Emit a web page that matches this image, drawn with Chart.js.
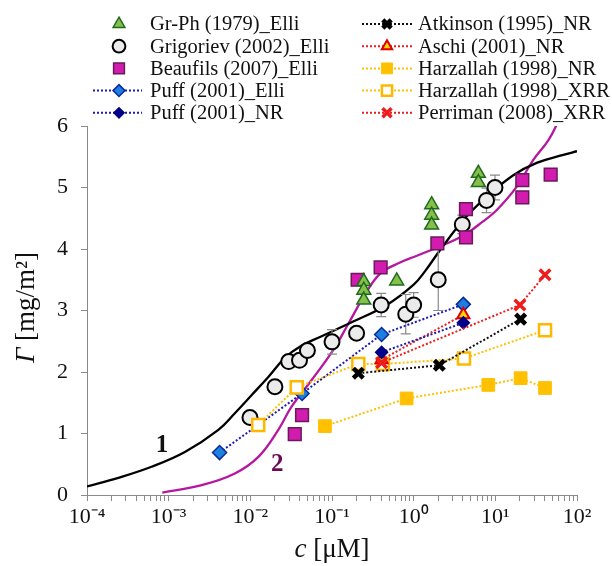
<!DOCTYPE html>
<html>
<head>
<meta charset="utf-8">
<script src="https://cdn.jsdelivr.net/npm/chart.js@4.4.1/dist/chart.umd.min.js"></script>
<style>
html, body { margin: 0; padding: 0; background: #fff; }
#wrap { width: 612px; height: 566px; }
</style>
</head>
<body>
<div id="wrap"><canvas id="chart" width="612" height="566"></canvas></div>
<script>
// 刻度标签
const xTickLabels = ['10⁻⁴', '10⁻³', '10⁻²', '10⁻¹', '10⁰', '10¹', '10²'];
const yTicks = [0, 1, 2, 3, 4, 5, 6];

// 实验数据 c [µM] / Γ [mg/m²]
const grPhC = [0.245, 0.245, 0.245, 0.62, 1.66, 1.66, 1.66, 6.2, 6.2];
const grPhG = [3.47, 3.33, 3.17, 3.48, 4.72, 4.55, 4.39, 5.23, 5.08];

const grigC = [0.0099, 0.020, 0.0295, 0.040, 0.050, 0.10, 0.20, 0.40, 0.80, 1.0, 2.0, 3.94, 7.8, 9.9];
const grigG = [1.26, 1.76, 2.17, 2.19, 2.35, 2.49, 2.63, 3.09, 2.94, 3.09, 3.50, 4.40, 4.79, 5.00];
const grigErr = [0, 0, 0, 0, 0, 0.2, 0, 0.19, 0.32, 0.2, 0.5, 0.15, 0.2, 0.2];

const beauC = [0.035, 0.043, 0.206, 0.394, 1.95, 4.37, 4.37, 21.4, 21.4, 47.6];
const beauG = [0.99, 1.30, 3.50, 3.70, 4.09, 4.65, 4.19, 5.12, 4.84, 5.21];

const puffElliC = [0.0042, 0.043, 0.405, 4.06];
const puffElliG = [0.69, 1.65, 2.61, 3.10];

const puffNrC = [0.405, 4.06];
const puffNrG = [2.32, 2.80];

const atkC = [0.21, 2.06, 20.4];
const atkG = [1.98, 2.11, 2.86];

const aschiC = [0.405, 4.06];
const aschiG = [2.20, 2.93];

const harzNrC = [0.082, 0.82, 8.2, 20.4, 40.6];
const harzNrG = [1.12, 1.57, 1.79, 1.90, 1.74];

const harzXrrC = [0.0125, 0.037, 0.21, 0.42, 4.13, 40.6];
const harzXrrG = [1.14, 1.75, 2.13, 2.13, 2.22, 2.68];

const perrC = [0.405, 20.0, 40.6];
const perrG = [2.15, 3.09, 3.58];

// 理论曲线 1 和 2
const curve1C = [0.0001, 0.000242, 0.000617, 0.00158, 0.00406, 0.00646, 0.01047, 0.0166, 0.0265, 0.0426, 0.0713, 0.182, 0.468, 1.0, 1.38, 2.10, 4.06, 7.83, 16.6, 32.1, 67.9, 100];
const curve1G = [0.14, 0.28, 0.46, 0.70, 1.06, 1.33, 1.63, 1.92, 2.23, 2.43, 2.57, 2.82, 3.09, 3.42, 3.64, 3.98, 4.47, 4.85, 5.20, 5.40, 5.53, 5.59];

const curve2C = [0.000836, 0.00254, 0.00646, 0.01253, 0.0220, 0.0321, 0.0564, 0.1038, 0.158, 0.251, 0.389, 0.681, 1.0, 1.91, 4.06, 7.08, 10.35, 18.2, 29.2, 44.7, 60.3];
const curve2G = [0.04, 0.16, 0.35, 0.62, 1.06, 1.44, 1.87, 2.36, 2.78, 3.25, 3.60, 3.78, 3.87, 4.02, 4.22, 4.45, 4.63, 5.01, 5.45, 5.77, 6.1];

// 图例顺序 (左列, 右列)
const legendLeft = ['Gr-Ph (1979)_Elli', 'Grigoriev (2002)_Elli', 'Beaufils (2007)_Elli', 'Puff (2001)_Elli', 'Puff (2001)_NR'];
const legendRight = ['Atkinson (1995)_NR', 'Aschi (2001)_NR', 'Harzallah (1998)_NR', 'Harzallah (1998)_XRR', 'Perriman (2008)_XRR'];

function pts(cs, gs) {
    return cs.map((c, i) => ({ x: c, y: gs[i] }));
}

const dotted = [2, 2];

function markers(label, cs, gs, style) {
    return Object.assign({
        label: label,
        data: pts(cs, gs),
        showLine: false,
        pointBorderWidth: 1.5
    }, style);
}

function dottedSeries(label, cs, gs, color, style) {
    return Object.assign({
        label: label,
        data: pts(cs, gs),
        showLine: true,
        borderColor: color,
        borderWidth: 2,
        borderDash: dotted,
        pointBorderWidth: 1.5
    }, style);
}

const datasets = [
    dottedSeries('Perriman (2008)_XRR', perrC, perrG, '#ee1c1c', {
        pointStyle: 'crossRot', pointRadius: 7.5, pointBorderWidth: 3.5,
        pointBorderColor: '#ee1c1c', pointBackgroundColor: '#ee1c1c'
    }),
    dottedSeries('Atkinson (1995)_NR', atkC, atkG, '#111111', {
        pointStyle: 'crossRot', pointRadius: 7, pointBorderWidth: 4.5,
        pointBorderColor: '#000000', pointBackgroundColor: '#000000'
    }),
    dottedSeries('Puff (2001)_NR', puffNrC, puffNrG, '#1a1ab4', {
        pointStyle: 'rectRot', pointRadius: 6,
        pointBorderColor: '#000080', pointBackgroundColor: '#00008b'
    }),
    dottedSeries('Aschi (2001)_NR', aschiC, aschiG, '#ee1c1c', {
        pointStyle: 'triangle', pointRadius: 7, pointBorderWidth: 2,
        pointBorderColor: '#e00000', pointBackgroundColor: '#ffd700'
    }),
    dottedSeries('Harzallah (1998)_XRR', harzXrrC, harzXrrG, '#ffc000', {
        pointStyle: 'rect', pointRadius: 8.5, pointBorderWidth: 2.5,
        pointBorderColor: '#ffb800', pointBackgroundColor: '#ffffff'
    }),
    dottedSeries('Puff (2001)_Elli', puffElliC, puffElliG, '#1a1ab4', {
        pointStyle: 'rectRot', pointRadius: 7,
        pointBorderColor: '#0a2a9a', pointBackgroundColor: '#1e7fe0'
    }),
    dottedSeries('Harzallah (1998)_NR', harzNrC, harzNrG, '#ffc000', {
        pointStyle: 'rect', pointRadius: 9, pointBorderWidth: 1,
        pointBorderColor: '#ffc000', pointBackgroundColor: '#ffc000'
    }),
    markers('Gr-Ph (1979)_Elli', grPhC, grPhG, {
        pointStyle: 'triangle', pointRadius: 8,
        pointBorderColor: '#1e6b1e', pointBackgroundColor: '#86c04a'
    }),
    markers('Beaufils (2007)_Elli', beauC, beauG, {
        pointStyle: 'rect', pointRadius: 9,
        pointBorderColor: '#6a1a5a', pointBackgroundColor: '#d21cb0'
    }),
    markers('Grigoriev (2002)_Elli', grigC, grigG, {
        pointStyle: 'circle', pointRadius: 7.5, pointBorderWidth: 2,
        pointBorderColor: '#000000', pointBackgroundColor: '#ebebeb'
    }),
    {
        type: 'line',
        label: 'curve1', data: pts(curve1C, curve1G),
        borderColor: '#000000', borderWidth: 2.3, pointRadius: 0,
        fill: false, tension: 0.4
    },
    {
        type: 'line',
        label: 'curve2', data: pts(curve2C, curve2G),
        borderColor: '#b5179e', borderWidth: 2.3, pointRadius: 0,
        fill: false, tension: 0.4
    }
];

// 误差棒 (画在圆点下面)
const errorBars = {
    id: 'errorBars',
    beforeDatasetDraw(chart, args) {
        if (chart.data.datasets[args.index].label !== 'Grigoriev (2002)_Elli') return;
        const ctx = chart.ctx;
        const xs = chart.scales.x, ys = chart.scales.y;
        ctx.save();
        ctx.strokeStyle = '#8a8a8a';
        ctx.lineWidth = 1.2;
        grigC.forEach((c, i) => {
            if (!grigErr[i]) return;
            const px = xs.getPixelForValue(c);
            const top = ys.getPixelForValue(grigG[i] + grigErr[i]);
            const bot = ys.getPixelForValue(grigG[i] - grigErr[i]);
            ctx.beginPath();
            ctx.moveTo(px, top); ctx.lineTo(px, bot);
            ctx.moveTo(px - 5, top); ctx.lineTo(px + 5, top);
            ctx.moveTo(px - 5, bot); ctx.lineTo(px + 5, bot);
            ctx.stroke();
        });
        ctx.restore();
    }
};

function drawMarker(ctx, ds, x, y) {
    ctx.save();
    ctx.setLineDash([]);
    ctx.fillStyle = ds.pointBackgroundColor;
    ctx.strokeStyle = ds.pointBorderColor;
    ctx.lineWidth = ds.pointBorderWidth;
    Chart.helpers.drawPoint(ctx, {
        pointStyle: ds.pointStyle,
        radius: ds.pointRadius * 0.85,
        borderWidth: ds.pointBorderWidth,
        rotation: 0
    }, x, y);
    ctx.restore();
}

// 图例 + 轴标题 + 曲线编号
const decorations = {
    id: 'decorations',
    afterDraw(chart) {
        const ctx = chart.ctx;
        const byLabel = {};
        chart.data.datasets.forEach(ds => { byLabel[ds.label] = ds; });

        ctx.save();
        ctx.font = '20.5px "Liberation Serif"';
        ctx.textBaseline = 'middle';
        ctx.fillStyle = '#111';
        const cols = [
            { names: legendLeft, x1: 93, xm: 119, x2: 142, tx: 150 },
            { names: legendRight, x1: 362, xm: 387, x2: 413, tx: 418 }
        ];
        cols.forEach(col => {
            col.names.forEach((name, i) => {
                const ds = byLabel[name];
                const y = 24 + i * 22.2;
                if (ds.showLine) {
                    ctx.save();
                    ctx.strokeStyle = ds.borderColor;
                    ctx.lineWidth = 2;
                    ctx.setLineDash(dotted);
                    ctx.beginPath();
                    ctx.moveTo(col.x1, y);
                    ctx.lineTo(col.x2, y);
                    ctx.stroke();
                    ctx.restore();
                }
                drawMarker(ctx, ds, col.xm, y);
                ctx.fillStyle = '#111';
                ctx.fillText(name, col.tx, y + 1);
            });
        });
        ctx.restore();

        // 轴标题
        const area = chart.chartArea;
        function mixed(parts, cx, cy) {
            let w = 0;
            parts.forEach(p => { ctx.font = p.font; w += ctx.measureText(p.t).width; });
            let x = cx - w / 2;
            parts.forEach(p => {
                ctx.font = p.font;
                ctx.fillText(p.t, x, cy);
                x += ctx.measureText(p.t).width;
            });
        }
        ctx.save();
        ctx.fillStyle = '#111';
        ctx.textBaseline = 'middle';
        ctx.textAlign = 'left';
        mixed([
            { t: 'c', font: 'italic 27px "Liberation Serif"' },
            { t: ' [μM]', font: '27px "Liberation Serif"' }
        ], (area.left + area.right) / 2, 550);
        ctx.translate(27, (area.top + area.bottom) / 2 - 3);
        ctx.rotate(-Math.PI / 2);
        mixed([
            { t: 'Γ', font: 'italic 27px "Liberation Serif"' },
            { t: ' [mg/m²]', font: '27px "Liberation Serif"' }
        ], 0, 0);
        ctx.restore();

        // 曲线编号
        const xs = chart.scales.x, ys = chart.scales.y;
        ctx.save();
        ctx.font = 'bold 25px "Liberation Serif"';
        ctx.textAlign = 'center';
        ctx.textBaseline = 'middle';
        ctx.fillStyle = '#111';
        ctx.fillText('1', xs.getPixelForValue(0.00083), ys.getPixelForValue(0.81));
        ctx.fillStyle = '#6a0a55';
        ctx.fillText('2', xs.getPixelForValue(0.0213), ys.getPixelForValue(0.49));
        ctx.restore();
    }
};

Chart.defaults.font.family = '"Liberation Serif", serif';
Chart.defaults.color = '#111';

new Chart(document.getElementById('chart').getContext('2d'), {
    type: 'scatter',
    data: { datasets: datasets },
    options: {
        responsive: false,
        devicePixelRatio: 1,
        animation: false,
        layout: { padding: { top: 126, right: 35, bottom: 31, left: 47 } },
        plugins: {
            legend: { display: false },
            tooltip: { enabled: false }
        },
        scales: {
            x: {
                type: 'logarithmic',
                min: 0.0001,
                max: 100,
                afterBuildTicks: (scale) => {
                    const t = [];
                    for (let e = -4; e <= 2; e++) {
                        for (let m = 1; m <= 9; m++) {
                            const v = m * Math.pow(10, e);
                            if (v > 100.0001) break;
                            t.push({ value: v });
                        }
                    }
                    scale.ticks = t;
                },
                afterFit: (scale) => {
                    scale.height = 40;
                    scale.paddingLeft = 0;
                    scale.paddingRight = 0;
                },
                ticks: {
                    autoSkip: false,
                    maxRotation: 0,
                    padding: 3,
                    font: { size: 22 },
                    color: '#111',
                    callback: (v) => {
                        const e = Math.round(Math.log10(v));
                        return Math.abs(v / Math.pow(10, e) - 1) < 1e-6 ? xTickLabels[e + 4] : '';
                    }
                },
                grid: { display: true, drawOnChartArea: false, drawTicks: true, tickLength: 6, color: '#8a8a8a' },
                border: { display: true, color: '#8a8a8a', width: 1 }
            },
            y: {
                type: 'linear',
                min: 0,
                max: 6,
                afterBuildTicks: (scale) => {
                    scale.ticks = yTicks.map(v => ({ value: v }));
                },
                afterFit: (scale) => {
                    scale.width = 40;
                    scale.paddingTop = 0;
                    scale.paddingBottom = 0;
                },
                ticks: { padding: 13, font: { size: 22 }, color: '#111' },
                grid: { display: true, drawOnChartArea: false, drawTicks: true, tickLength: 6, color: '#8a8a8a' },
                border: { display: true, color: '#8a8a8a', width: 1 }
            }
        }
    },
    plugins: [errorBars, decorations]
});
</script>
</body>
</html>
